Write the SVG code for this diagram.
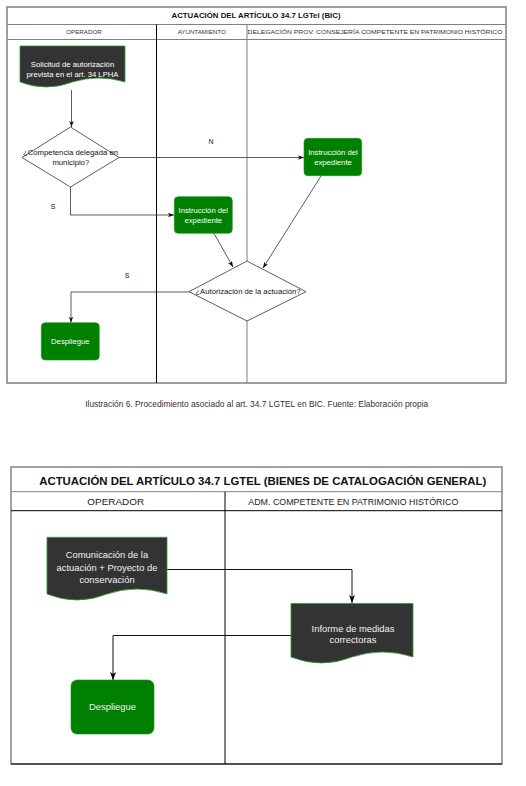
<svg xmlns="http://www.w3.org/2000/svg" width="526" height="786" viewBox="0 0 526 786">
<defs>
<style>
.t{font-family:"Liberation Sans",Arial,sans-serif}
.frame{fill:none;stroke:#7f7f7f;stroke-width:1.5}
.grid{stroke:#7f7f7f;stroke-width:1;fill:none}
.blk{stroke:#000;stroke-width:1;fill:none}
.hdr{font-size:6.2px;fill:#333;text-anchor:middle}
.hdr2{font-size:9px;fill:#222;text-anchor:middle}
.lbl{font-size:7.7px;fill:#111;text-anchor:middle}
.wt{font-size:7.7px;fill:#fff;text-anchor:middle}
.wt2{font-size:9.4px;fill:#f2f2f2;text-anchor:middle}
.green{fill:#008000;stroke:#1f8f1f;stroke-width:0.6}
.doc{fill:#333;stroke:#2e9a2e;stroke-width:0.8}
.dia{fill:#fff;stroke:#333;stroke-width:0.8}
.c1{fill:none;stroke:#333;stroke-width:0.8}
.c2{fill:none;stroke:#111;stroke-width:1}
</style>
<marker id="ah" viewBox="0 0 8 6" refX="8" refY="3" markerWidth="6" markerHeight="4.5" markerUnits="userSpaceOnUse" orient="auto">
<path d="M0,0 L8,3 L0,6 L2,3 Z" fill="#111"/>
</marker>
<marker id="ah2" viewBox="0 0 8 6" refX="8" refY="3" markerWidth="8" markerHeight="6" markerUnits="userSpaceOnUse" orient="auto">
<path d="M0,0 L8,3 L0,6 L2,3 Z" fill="#000"/>
</marker>
</defs>
<rect width="526" height="786" fill="#fff"/>

<!-- ===== Top diagram ===== -->
<g id="pool1">
<rect class="frame" x="7" y="7" width="499" height="376"/>
<line class="grid" x1="7" y1="24.5" x2="506" y2="24.5"/>
<line class="grid" x1="7" y1="39.5" x2="506" y2="39.5"/>
<line class="blk" x1="156.5" y1="24.5" x2="156.5" y2="383"/>
<line class="grid" x1="247" y1="24.5" x2="247" y2="383"/>
<text class="t" x="256" y="18.3" font-size="7.8" font-weight="bold" text-anchor="middle" fill="#111" textLength="169" lengthAdjust="spacingAndGlyphs">ACTUACIÓN DEL ARTÍCULO 34.7 LGTel (BIC)</text>
<text class="t hdr" x="84" y="34.2">OPERADOR</text>
<text class="t hdr" x="201.7" y="34.2">AYUNTAMIENTO</text>
<text class="t hdr" x="375" y="34.2" textLength="255" lengthAdjust="spacingAndGlyphs">DELEGACIÓN PROV. CONSEJERÍA COMPETENTE EN PATRIMONIO HISTÓRICO</text>
</g>

<g id="connectors1">
<path class="c1" stroke="#999" d="M71.5,90 V127" marker-end="url(#ah)"/>
<path class="c1" d="M119,157.5 H304" marker-end="url(#ah)"/>
<path class="c1" d="M70.5,187 V215 H174" marker-end="url(#ah)"/>
<path class="c1" d="M214,233.5 L233,267" marker-end="url(#ah)"/>
<path class="c1" d="M321,176 L263,268" marker-end="url(#ah)"/>
<path class="c1" d="M189,292 H71 V322.7" marker-end="url(#ah)"/>
<text class="t" x="211" y="143.5" font-size="7" fill="#111" text-anchor="middle">N</text>
<text class="t" x="53" y="208.5" font-size="7" fill="#111" text-anchor="middle">S</text>
<text class="t" x="127" y="277.5" font-size="7" fill="#111" text-anchor="middle">S</text>
</g>

<g id="n_solicitud">
<path class="doc" d="M20,46 H125 V82 Q98.75,74 72.5,82 Q46.25,92 20,82 Z"/>
<text class="t wt" x="72.5" y="66.7">Solicitud de autorización</text>
<text class="t wt" x="72.5" y="77.2">prevista en el art. 34 LPHA</text>
</g>

<g id="n_competencia">
<path class="dia" d="M70.5,127 L119,157.5 L70.5,187 L22,157.5 Z"/>
<text class="t lbl" x="70.5" y="154.7" textLength="95" lengthAdjust="spacingAndGlyphs">¿Competencia delegada en</text>
<text class="t lbl" x="70.8" y="165.4">municipio?</text>
</g>

<g id="n_instr_deleg">
<rect class="green" x="304" y="138.3" width="57.7" height="37.4" rx="4"/>
<text class="t wt" x="333" y="155.4">Instrucción del</text>
<text class="t wt" x="333" y="165.4">expediente</text>
</g>

<g id="n_instr_ayto">
<rect class="green" x="174.3" y="196.7" width="58" height="36.6" rx="4"/>
<text class="t wt" x="203.3" y="212.7">Instrucción del</text>
<text class="t wt" x="203.3" y="222.7">expediente</text>
</g>

<g id="n_autorizacion">
<path class="dia" d="M247,261 L306,291.7 L247,321 L189,291.7 Z"/>
<text class="t lbl" x="248" y="294.4">¿Autorización de la actuación?</text>
</g>

<g id="n_despliegue1">
<rect class="green" x="41.3" y="322.7" width="58" height="37.3" rx="4"/>
<text class="t wt" x="70.3" y="343.8">Despliegue</text>
</g>

<text class="t" x="256.7" y="407" font-size="8.8" fill="#3b2a40" text-anchor="middle" textLength="343" lengthAdjust="spacingAndGlyphs">Ilustración 6. Procedimiento asociado al art. 34.7 LGTEL en BIC. Fuente: Elaboración propia</text>

<!-- ===== Bottom diagram ===== -->
<g id="pool2">
<rect x="11" y="467" width="491" height="297" fill="none" stroke="#666" stroke-width="1.2"/>
<line x1="11" y1="764" x2="502" y2="764" stroke="#000" stroke-width="1.2"/>
<line class="grid" x1="11" y1="491.7" x2="502" y2="491.7"/>
<line class="blk" x1="11" y1="510.7" x2="502" y2="510.7"/>
<line class="blk" x1="225" y1="491.7" x2="225" y2="764"/>
<text class="t" x="262.7" y="484.8" font-size="11.3" font-weight="bold" text-anchor="middle" fill="#111" textLength="447" lengthAdjust="spacingAndGlyphs">ACTUACIÓN DEL ARTÍCULO 34.7 LGTEL (BIENES DE CATALOGACIÓN GENERAL)</text>
<text class="t hdr2" x="115.7" y="505.2" textLength="56.7" lengthAdjust="spacingAndGlyphs">OPERADOR</text>
<text class="t hdr2" x="353.3" y="505.2" textLength="210" lengthAdjust="spacingAndGlyphs">ADM. COMPETENTE EN  PATRIMONIO HISTÓRICO</text>
</g>

<g id="connectors2">
<path class="c2" d="M167,569.5 H352 V603" marker-end="url(#ah2)"/>
<path class="c2" d="M291,635.5 H113 V680" marker-end="url(#ah2)"/>
</g>

<g id="n_comunicacion">
<path class="doc" d="M47,537.3 H167 V594 Q137,584 107,594 Q77,606 47,594 Z"/>
<text class="t wt2" x="107" y="558.4">Comunicación de la</text>
<text class="t wt2" x="107" y="570.9">actuación + Proyecto de</text>
<text class="t wt2" x="107" y="583.4">conservación</text>
</g>

<g id="n_informe">
<path class="doc" d="M291,603.5 H413 V657 Q382.5,647 352,657 Q321.5,669 291,657 Z"/>
<text class="t wt2" x="353" y="631.6">Informe de medidas</text>
<text class="t wt2" x="353" y="643">correctoras</text>
</g>

<g id="n_despliegue2">
<rect class="green" x="71" y="680" width="83" height="54" rx="6"/>
<text class="t wt2" x="112.5" y="710.3">Despliegue</text>
</g>
</svg>
